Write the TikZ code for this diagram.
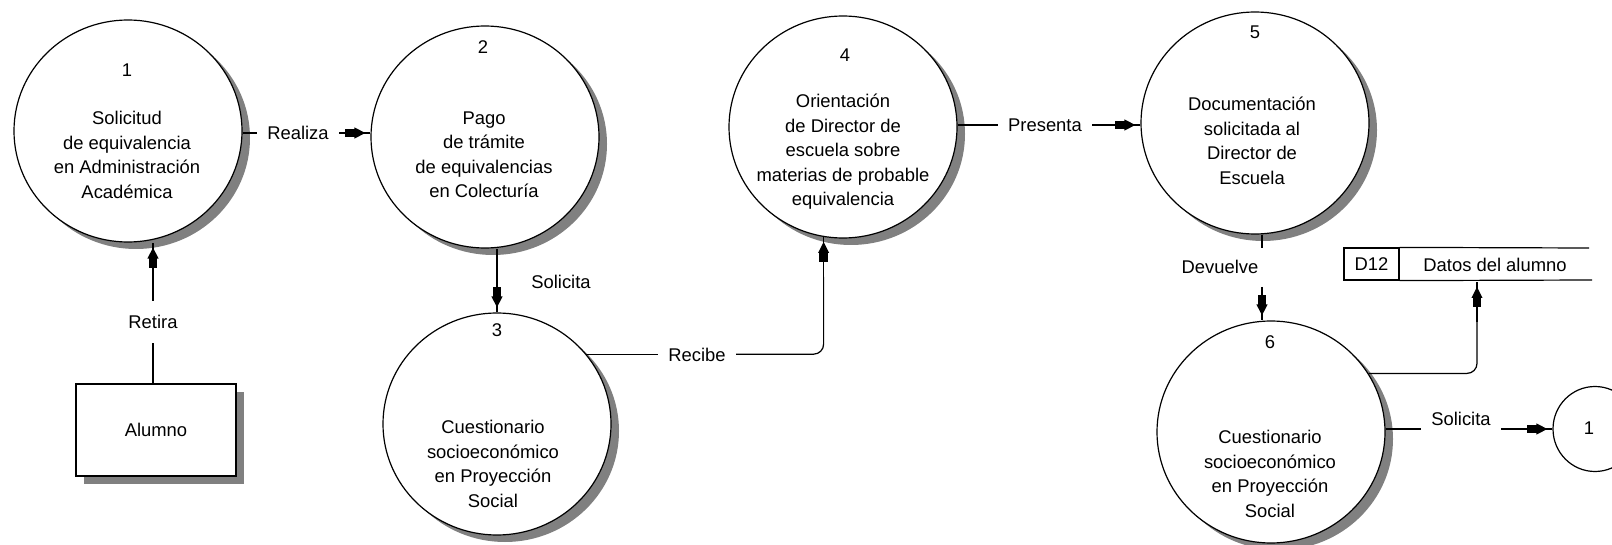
\documentclass[tikz,border=0pt]{standalone}
\usepackage{fontspec}
\setmainfont{Liberation Sans}
\usetikzlibrary{shapes.geometric,shadows,decorations.markings,calc}
\begin{document}
\begin{tikzpicture}[x=0.5pt,y=-0.5pt,
  font=\fontsize{9.2}{12.25}\selectfont,
  ln/.style={line width=0.6pt},
  proc/.style={ellipse, draw, line width=0.6pt, fill=white, inner sep=0pt,
    minimum width=114pt, minimum height=111pt,
    general shadow={fill=black!50, shadow xshift=4pt, shadow yshift=-3.5pt}},
  ext/.style={rectangle, draw, line width=0.6pt, fill=white, minimum width=80pt, minimum height=46pt,
    general shadow={fill=black!50, shadow xshift=4pt, shadow yshift=-4pt}},
  txt/.style={align=center, inner sep=0pt},
  lab/.style={inner sep=5pt},
  arr/.style={postaction={decorate}, decoration={markings,
    mark=at position -2.5pt with {\fill (-10pt,-2.1pt) rectangle (-5pt,2.1pt);
      \fill (-5.5pt,-2.8pt) -- (0pt,0pt) -- (-5.5pt,2.8pt) -- cycle;}}}
]
\useasboundingbox (0,0) rectangle (1612,545);
\fill[white] (0,0) rectangle (1612,545);
\clip (0,0) rectangle (1612,545);

% processes
\node[proc] (p1) at (128,131) {};
\node[proc] (p2) at (485,137) {};
\node[proc] (p3) at (497,424) {};
\node[proc] (p4) at (843,127) {};
\node[proc] (p5) at (1255,123) {};
\node[proc] (p6) at (1271,432) {};
\node[ellipse, draw, line width=0.6pt, inner sep=0pt, minimum width=42pt, minimum height=42.5pt] (s1) at (1595,429) {};

% numbers
\node[txt] (n1) at (127,70) {1};
\node[txt] (n2) at (483,47) {2};
\node[txt] (n3) at (497,330) {3};
\node[txt] (n4) at (845,55) {4};
\node[txt] (n5) at (1255,32) {5};
\node[txt] (n6) at (1270,342) {6};
\node[txt] (n7) at (1589,428) {1};

% texts
\node[txt] (t1) at (127,155) {Solicitud\\de equivalencia\\en Administración\\Académica};
\node[txt] (t2) at (484,155) {Pago\\de trámite\\de equivalencias\\en Colecturía};
\node[txt] (t3) at (493,464) {Cuestionario\\socioeconómico\\en Proyección\\Social};
\node[txt] (t4) at (843,152) {Orientación\\de Director de\\escuela sobre\\materias de probable\\equivalencia};
\node[txt] (t5) at (1252,141) {Documentación\\solicitada al\\Director de\\Escuela};
\node[txt] (t6) at (1270,474) {Cuestionario\\socioeconómico\\en Proyección\\Social};

% external entity
\node[ext] (al) at (156,430) {Alumno};

% data store
\node[draw, line width=0.6pt, minimum width=27.5pt, minimum height=16pt, inner sep=0pt] (d12) at (1371.5,264) {D12};
\node[txt] (store) at (1495,265) {Datos del alumno};
\coordinate (stt) at (1589,248);
\coordinate (stb) at (1592,280);
\draw[ln] (d12.north east) -- (stt);
\draw[ln] (d12.south east) -- (stb);

% labels
\node[lab] (realiza) at (298,133) {Realiza};
\node[lab] (presenta) at (1045,125) {Presenta};
\node[lab] (sol1) at (561,282) {Solicita};
\node[lab] (recibe) at (697,355) {Recibe};
\node[lab, inner ysep=7pt] (retira) at (153,322) {Retira};
\node[txt] (devuelve) at (1220,267) {Devuelve};
\node[lab] (sol2) at (1461,419) {Solicita};

% connectors
\draw[ln] (realiza.west -| p1.east) -- (realiza.west);
\draw[ln,arr] (realiza.east) -- (realiza.east -| p2.west);
\draw[ln] (presenta.west -| p4.east) -- (presenta.west);
\draw[ln,arr] (presenta.east) -- (presenta.east -| p5.west);
\draw[ln,arr] (p3.north |- p2.south) -- (p3.north);
\draw[ln] (p3.38) -- (recibe.west |- p3.38);
\draw[ln,rounded corners=5pt] (recibe.east |- p3.38) -| ($(p4.260)+(0,40)$);
\draw[ln,arr] ($(p4.260)+(0,40)$) -- (p4.260);
\draw[ln] (al.north -| retira) -- (retira.south);
\draw[ln,arr] (retira.north) -- (retira.north |- p1.south);
\coordinate (dva) at (1262,248);
\coordinate (dvb) at (1262,287);
\draw[ln] (dva |- p5.south) -- (dva);
\draw[ln,arr] (dvb) -- (dvb |- p6.north);
\coordinate (stin) at (1477,282);
\draw[ln,rounded corners=5pt] (p6.31) -| ($(stin)+(0,40)$);
\draw[ln,arr] ($(stin)+(0,40)$) -- (stin);
\draw[ln] (p6.east |- s1.west) -- (sol2.west |- s1.west);
\draw[ln,arr] (sol2.east |- s1.west) -- (s1.west);
\end{tikzpicture}
\end{document}
